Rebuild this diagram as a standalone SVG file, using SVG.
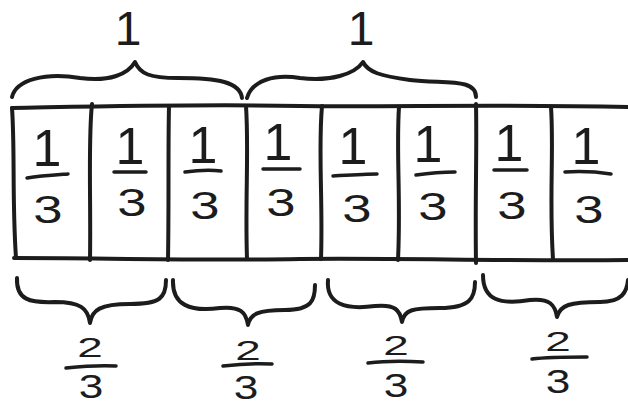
<svg xmlns="http://www.w3.org/2000/svg" width="628" height="406" viewBox="0 0 628 406">
<style>
.ln{fill:none;stroke:#1c1c1c;stroke-width:4;stroke-linecap:round;stroke-linejoin:round}
.bar{fill:none;stroke:#1c1c1c;stroke-width:3.5;stroke-linecap:round}
.one{font-family:"Liberation Sans",Arial,sans-serif;font-size:52px;fill:#1c1c1c;text-anchor:middle}
.three{font-family:"Liberation Sans",Arial,sans-serif;font-size:39px;fill:#1c1c1c;text-anchor:middle}
.big{font-family:"Liberation Sans",Arial,sans-serif;font-size:48px;fill:#1c1c1c;text-anchor:middle}
.two{font-family:"Liberation Sans",Arial,sans-serif;font-size:27px;fill:#1c1c1c;text-anchor:middle}
.sm{font-family:"Liberation Sans",Arial,sans-serif;font-size:34px;fill:#1c1c1c;text-anchor:middle}
</style>
<rect width="628" height="406" fill="#ffffff"/>
<g id="strip">
<path class="ln" d="M12,108 C120,106 200,104 300,106 C400,107 500,104 628,107"/>
<path class="ln" d="M14,258 C120,258 200,261 300,259 C400,258 500,261 628,260"/>
<path class="ln" d="M12,108 C15,150 12,200 16,258"/>
<path class="ln" d="M92,104 C88,140 91,200 90,260"/>
<path class="ln" d="M169,106 C168,150 169,200 168,260"/>
<path class="ln" d="M246,106 C249,150 245,200 247,259"/>
<path class="ln" d="M322,106 C318,150 323,200 321,259"/>
<path class="ln" d="M399,107 C396,150 401,200 398,260"/>
<path class="ln" d="M476,104 C477,150 475,200 476,263"/>
<path class="ln" d="M551,107 C554,150 549,200 553,259"/>
</g>
<g id="cell1"><text class="one" x="47" y="166">1</text><path class="bar" d="M27,178 C40,176 55,175 68,174"/><text class="three" transform="translate(48,223) scale(1.35,1)">3</text></g>
<g id="cell2"><text class="one" x="130" y="164">1</text><path class="bar" d="M114,172 L146,172"/><text class="three" transform="translate(132,216) scale(1.35,1)">3</text></g>
<g id="cell3"><text class="one" x="203" y="163">1</text><path class="bar" d="M185,172 C200,170 212,170 221,171"/><text class="three" transform="translate(205,219) scale(1.35,1)">3</text></g>
<g id="cell4"><text class="one" x="278" y="160">1</text><path class="bar" d="M263,169 L300,169"/><text class="three" transform="translate(281,216) scale(1.35,1)">3</text></g>
<g id="cell5"><text class="one" x="353" y="164">1</text><path class="bar" d="M333,176 C350,175 365,174 377,174"/><text class="three" transform="translate(357,222) scale(1.35,1)">3</text></g>
<g id="cell6"><text class="one" x="428" y="162">1</text><path class="bar" d="M416,175 C430,173 445,172 455,172"/><text class="three" transform="translate(433,220) scale(1.35,1)">3</text></g>
<g id="cell7"><text class="one" x="509" y="161">1</text><path class="bar" d="M494,170 L527,170"/><text class="three" transform="translate(512,219) scale(1.35,1)">3</text></g>
<g id="cell8"><text class="one" x="586" y="164">1</text><path class="bar" d="M565,172 C580,171 598,172 611,174"/><text class="three" transform="translate(589,223) scale(1.35,1)">3</text></g>
<g id="braces">
<path class="ln" d="M12,97 C16,80 45,72 80,78 C110,82 128,74 135,62 C140,74 150,78 178,78 C218,78 240,82 242,98"/>
<path class="ln" d="M247,98 C252,80 275,74 300,78 C330,82 355,74 363,62 C368,72 380,76 410,80 C445,84 476,78 476,97"/>
<path class="ln" d="M17,278 C16,300 30,303 55,302 C80,302 88,308 90,323 C92,310 100,304 130,304 C160,304 166,298 166,280"/>
<path class="ln" d="M173,280 C172,305 190,312 220,308 C240,306 246,312 248,325 C250,314 258,310 285,310 C312,310 315,300 315,285"/>
<path class="ln" d="M328,280 C326,304 345,310 375,306 C395,304 400,310 402,322 C404,310 412,308 440,308 C470,308 475,298 475,282"/>
<path class="ln" d="M483,275 C483,300 500,305 530,300 C550,298 555,305 557,317 C560,305 570,302 600,302 C622,302 627,292 628,280"/>
</g>
<g id="top-label-1"><text class="big" x="128" y="45">1</text></g>
<g id="top-label-2"><text class="big" x="361" y="45">1</text></g>
<g id="bottom-label-1"><text class="two" transform="translate(90,357) scale(1.7,1)">2</text><path class="bar" d="M66,368 C85,366 100,365 116,366"/><text class="sm" transform="translate(91,398) scale(1.3,1)">3</text></g>
<g id="bottom-label-2"><text class="two" transform="translate(248,360) scale(1.7,1)">2</text><path class="bar" d="M223,366 C240,364 255,363 272,364"/><text class="sm" transform="translate(246,399) scale(1.3,1)">3</text></g>
<g id="bottom-label-3"><text class="two" transform="translate(396,355) scale(1.7,1)">2</text><path class="bar" d="M368,363 C385,361 405,361 423,362"/><text class="sm" transform="translate(396,397) scale(1.3,1)">3</text></g>
<g id="bottom-label-4"><text class="two" transform="translate(558,351) scale(1.7,1)">2</text><path class="bar" d="M532,359 C548,357 570,357 587,357"/><text class="sm" transform="translate(558,393) scale(1.3,1)">3</text></g>
</svg>
